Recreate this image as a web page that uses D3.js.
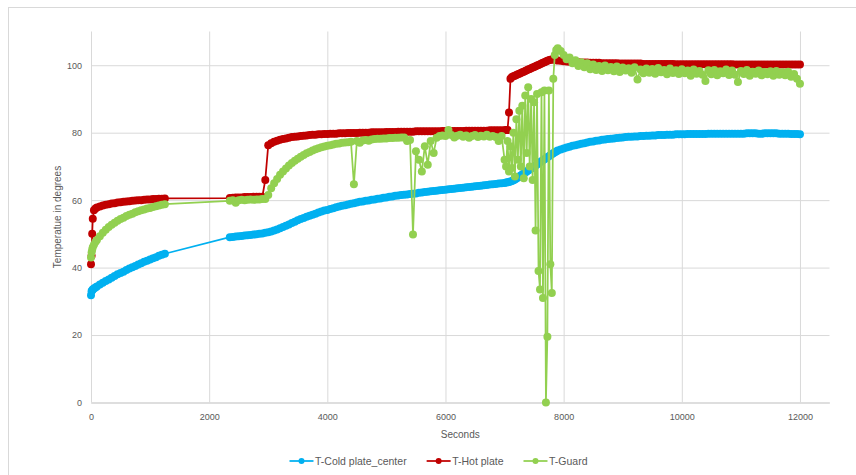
<!DOCTYPE html>
<html>
<head>
<meta charset="utf-8">
<script src="https://cdn.jsdelivr.net/npm/d3@7"></script>
<style>
  body { margin: 0; background: #fff; }
  text { font-family: "Liberation Sans", Arial, sans-serif; fill: #595959; }
</style>
</head>
<body>
<script>
// sample times (s)
const seconds = [
  0,10,20,30,50,75,100,150,200,250,
  300,350,400,450,500,550,600,650,700,750,
  800,850,900,950,1000,1050,1100,1150,1200,1250,
  2350,2400,2450,2500,2550,2600,2650,2700,2750,2800,
  2850,2900,2950,3000,3050,3100,3150,3200,3250,3300,
  3350,3400,3450,3500,3550,3600,3650,3700,3750,3800,
  3850,3900,3950,4000,4050,4100,4150,4200,4250,4300,
  4350,4400,4450,4500,4550,4600,4650,4700,4750,4800,
  4850,4900,4950,5000,5050,5100,5150,5200,5250,5300,
  5350,5400,5450,5500,5550,5600,5650,5700,5750,5800,
  5850,5900,5950,6000,6050,6100,6150,6200,6250,6300,
  6350,6400,6450,6500,6550,6600,6650,6700,6750,6800,
  6850,6900,6950,7000,7025,7050,7075,7100,7125,7150,
  7175,7200,7225,7250,7275,7300,7325,7350,7375,7400,
  7425,7450,7475,7500,7525,7550,7575,7600,7625,7650,
  7675,7700,7725,7750,7775,7800,7825,7850,7875,7900,
  7950,8000,8050,8100,8150,8200,8250,8300,8350,8400,
  8450,8500,8550,8600,8650,8700,8750,8800,8850,8900,
  8950,9000,9050,9100,9150,9200,9250,9300,9350,9400,
  9450,9500,9550,9600,9650,9700,9750,9800,9850,9900,
  9950,10000,10050,10100,10150,10200,10250,10300,10350,10400,
  10450,10500,10550,10600,10650,10700,10750,10800,10850,10900,
  10950,11000,11050,11100,11150,11200,11250,11300,11350,11400,
  11450,11500,11550,11600,11650,11700,11750,11800,11850,11900,
  11950,12000
];

const coldPlate = [
  31.8,33.0,33.3,33.5,33.8,34.1,34.4,35.0,35.5,36.0,
  36.5,37.0,37.5,38.0,38.4,38.8,39.3,39.7,40.1,40.5,
  40.9,41.3,41.7,42.0,42.4,42.8,43.1,43.5,43.8,44.1,
  49.0,49.1,49.2,49.3,49.4,49.5,49.6,49.7,49.8,49.9,
  50.0,50.1,50.3,50.5,50.7,51.0,51.3,51.7,52.0,52.4,
  52.8,53.2,53.6,54.0,54.4,54.7,55.1,55.4,55.7,56.0,
  56.3,56.6,56.9,57.1,57.4,57.6,57.9,58.1,58.3,58.5,
  58.7,58.9,59.1,59.3,59.5,59.6,59.8,59.9,60.1,60.2,
  60.4,60.5,60.7,60.8,61.0,61.1,61.3,61.4,61.5,61.6,
  61.7,61.8,61.9,62.0,62.2,62.3,62.4,62.5,62.6,62.7,
  62.8,62.9,63.0,63.1,63.2,63.3,63.4,63.5,63.6,63.7,
  63.8,63.9,64.0,64.1,64.2,64.3,64.4,64.5,64.6,64.7,
  64.8,64.9,65.0,65.1,65.2,65.3,65.4,65.5,65.7,65.9,
  66.1,66.4,66.7,67.0,67.3,67.6,67.9,68.2,68.5,68.8,
  69.1,69.4,69.7,70.0,70.3,70.6,70.9,71.2,71.5,71.8,
  72.1,72.4,72.7,73.0,73.3,73.6,73.9,74.2,74.4,74.7,
  75.0,75.3,75.6,75.8,76.1,76.3,76.5,76.7,76.9,77.1,
  77.3,77.4,77.6,77.7,77.9,78.0,78.1,78.2,78.3,78.4,
  78.5,78.6,78.7,78.8,78.8,78.9,78.9,79.0,79.0,79.1,
  79.1,79.2,79.2,79.3,79.3,79.3,79.4,79.4,79.4,79.5,
  79.5,79.5,79.5,79.6,79.6,79.6,79.6,79.6,79.6,79.6,
  79.7,79.7,79.7,79.7,79.7,79.7,79.7,79.7,79.7,79.7,
  79.7,79.7,79.7,79.8,79.8,79.8,79.8,79.7,79.7,79.8,
  79.8,79.8,79.8,79.8,79.7,79.7,79.7,79.7,79.6,79.6,
  79.6,79.5
];

const hotPlate = [
  41.0,43.5,50.0,54.5,57.0,57.5,57.8,58.1,58.4,58.6,
  58.8,59.0,59.1,59.3,59.4,59.5,59.6,59.7,59.8,59.9,
  60.0,60.0,60.1,60.2,60.2,60.3,60.3,60.4,60.4,60.5,
  60.6,60.7,60.8,60.8,60.8,60.9,60.9,60.9,61.0,61.0,
  61.0,61.0,66.0,76.3,76.9,77.3,77.6,77.9,78.1,78.3,
  78.5,78.7,78.8,78.9,79.0,79.1,79.2,79.3,79.4,79.4,
  79.5,79.5,79.6,79.6,79.7,79.7,79.7,79.8,79.8,79.8,
  79.9,79.9,79.9,79.9,80.0,80.0,80.0,80.0,80.1,80.1,
  80.1,80.1,80.1,80.2,80.2,80.2,80.2,80.3,80.3,80.3,
  80.3,80.3,80.3,80.4,80.4,80.4,80.4,80.4,80.4,80.4,
  80.4,80.4,80.5,80.5,80.5,80.5,80.5,80.5,80.5,80.5,
  80.6,80.6,80.6,80.6,80.6,80.6,80.6,80.6,80.7,80.7,
  80.7,80.7,80.7,80.7,80.8,80.8,86.0,96.0,96.5,96.7,
  96.9,97.1,97.3,97.5,97.7,97.9,98.1,98.3,98.5,98.7,
  98.9,99.1,99.3,99.5,99.7,99.9,100.1,100.3,100.5,100.7,
  100.9,101.1,101.3,101.5,101.6,101.7,101.7,101.6,101.5,101.4,
  101.3,101.2,101.1,101.0,101.0,100.9,100.9,100.8,100.8,100.8,
  100.7,100.7,100.7,100.7,100.6,100.6,100.6,100.6,100.6,100.6,
  100.5,100.5,100.5,100.5,100.5,100.5,100.5,100.5,100.4,100.4,
  100.4,100.4,100.4,100.4,100.4,100.4,100.4,100.4,100.4,100.3,
  100.3,100.3,100.3,100.3,100.3,100.3,100.3,100.3,100.3,100.3,
  100.3,100.3,100.3,100.3,100.3,100.3,100.3,100.3,100.3,100.2,
  100.2,100.2,100.2,100.2,100.2,100.2,100.2,100.2,100.2,100.2,
  100.2,100.2,100.2,100.2,100.2,100.2,100.2,100.2,100.2,100.2,
  100.2,100.2
];

const guard = [
  43.0,44.5,45.3,46.0,46.8,47.6,48.2,49.3,50.3,51.2,
  52.0,52.7,53.3,53.9,54.4,54.8,55.3,55.7,56.0,56.4,
  56.7,57.0,57.2,57.5,57.7,58.0,58.2,58.4,58.6,58.8,
  59.8,60.0,59.2,60.0,60.1,60.0,60.1,60.2,60.1,60.2,
  60.2,60.3,60.3,61.5,63.5,65.0,66.3,67.5,68.5,69.4,
  70.3,71.0,71.7,72.3,72.9,73.4,73.9,74.3,74.7,75.1,
  75.4,75.7,75.9,76.1,76.3,76.5,76.7,76.8,77.0,77.1,
  77.2,77.3,64.7,77.5,77.0,77.7,77.8,77.6,78.0,78.1,
  78.2,78.2,78.3,78.3,78.4,78.4,78.5,78.5,78.6,78.6,
  77.5,77.8,49.8,74.5,72.0,68.5,76.0,70.5,77.5,74.0,
  78.5,79.0,79.2,79.0,80.8,79.3,78.6,79.1,79.4,78.8,
  79.2,78.5,79.0,79.3,78.7,79.1,78.9,79.4,78.8,79.0,
  78.7,77.5,79.0,72.0,70.0,77.5,68.5,76.0,69.5,80.0,
  67.0,84.0,72.0,86.5,70.0,88.0,66.5,91.0,74.0,93.5,
  70.0,90.0,66.0,89.0,51.0,91.5,39.0,33.5,92.0,31.0,
  92.5,0.0,19.5,92.5,41.0,32.5,96.0,103.0,104.5,105.0,
  104.2,103.0,101.8,102.3,100.6,101.5,99.8,100.9,99.4,100.6,
  98.8,100.2,98.6,99.8,98.3,99.9,98.5,99.5,98.2,99.6,
  98.0,99.3,98.4,99.1,97.8,99.4,95.8,98.7,97.6,99.0,
  97.8,98.9,97.5,99.2,97.9,98.6,97.3,99.0,97.7,98.5,
  97.4,98.8,97.6,98.4,96.9,98.7,97.5,98.3,97.2,95.3,
  98.5,97.3,98.6,97.0,98.2,97.6,98.7,97.1,98.4,97.2,
  95.0,98.3,97.4,98.6,96.9,98.1,97.5,98.4,97.0,98.0,
  97.3,98.2,96.9,98.3,97.2,97.9,97.0,98.1,96.6,97.4,
  96.0,94.5
];

const seriesNames = ['T-Cold plate_center', 'T-Hot plate', 'T-Guard'];
const seriesColors = ['#00b0f0', '#c00000', '#92d050'];
const xTicks = [0, 2000, 4000, 6000, 8000, 10000, 12000];
const yTicks = [0, 20, 40, 60, 80, 100];

const width = 856, height = 475;
const plotLeft = 91, plotRight = 829.5, plotTop = 31.5, plotBottom = 402.5;

const svg = d3.select('body')
              .append('svg')
              .attr('width', width)
              .attr('height', height);

// chart area border
svg.append('rect')
   .attr('x', 8.5).attr('y', 7.5)
   .attr('width', 1000).attr('height', 1000)
   .attr('fill', 'none')
   .attr('stroke', '#d9d9d9');

const x = d3.scaleLinear().domain([0, 12500]).range([plotLeft, plotRight]);
const y = d3.scaleLinear().domain([0, 110]).range([plotBottom, plotTop]);

// y grid + labels
const yAxis = svg.append('g')
  .attr('transform', `translate(${plotLeft},0)`)
  .call(d3.axisLeft(y).tickValues(yTicks).tickSize(-(plotRight - plotLeft)).tickPadding(9));
yAxis.select('.domain').remove();
yAxis.selectAll('.tick line').attr('stroke', '#d9d9d9');
yAxis.selectAll('.tick text').style('font-size', '9px').attr('fill', '#595959');

// x grid + labels
const xAxis = svg.append('g')
  .attr('transform', `translate(0,${plotBottom})`)
  .call(d3.axisBottom(x)
          .tickValues(xTicks)
          .tickFormat(d3.format('d'))
          .tickSize(-(plotBottom - plotTop))
          .tickSizeOuter(0)
          .tickPadding(11));
xAxis.select('.domain').attr('stroke', '#d0d0d0');
xAxis.selectAll('.tick line').attr('stroke', '#d9d9d9');
xAxis.selectAll('.tick text').style('font-size', '9px').attr('fill', '#595959');

// axis titles
svg.append('text')
   .attr('x', (plotLeft + plotRight) / 2).attr('y', 434)
   .attr('text-anchor', 'middle').attr('dominant-baseline', 'central')
   .style('font-size', '10px')
   .text('Seconds');

svg.append('text')
   .attr('transform', `translate(57,${(plotTop + plotBottom) / 2}) rotate(-90)`)
   .attr('text-anchor', 'middle').attr('dominant-baseline', 'central')
   .style('font-size', '10px')
   .text('Temperatue in degrees');

// series
const allSeries = [coldPlate, hotPlate, guard];
const line = d3.line()
               .x(d => x(d[0]))
               .y(d => y(d[1]));

allSeries.forEach((values, i) => {
  const points = seconds.map((t, j) => [t, values[j]]);
  const g = svg.append('g');
  g.append('path')
   .datum(points)
   .attr('d', line)
   .attr('fill', 'none')
   .attr('stroke', seriesColors[i])
   .attr('stroke-width', 1.75);
  g.selectAll('circle')
   .data(points)
   .enter()
   .append('circle')
   .attr('cx', d => x(d[0]))
   .attr('cy', d => y(d[1]))
   .attr('r', 4)
   .attr('fill', seriesColors[i]);
});

// legend
const legend = svg.append('g');
const items = legend.selectAll('g')
  .data(seriesNames)
  .enter()
  .append('g');
items.append('line')
     .attr('x1', 0).attr('x2', 24).attr('y1', 0).attr('y2', 0)
     .attr('stroke', (d, i) => seriesColors[i])
     .attr('stroke-width', 1.75);
items.append('circle')
     .attr('cx', 12).attr('cy', 0).attr('r', 3)
     .attr('fill', (d, i) => seriesColors[i]);
items.append('text')
     .attr('x', 25.5).attr('y', 0)
     .attr('dominant-baseline', 'central')
     .style('font-size', '10.5px')
     .text(d => d);

let offsets = [];
let cursor = 0;
items.each(function() {
  offsets.push(cursor);
  const w = d3.select(this).select('text').node().getComputedTextLength();
  cursor += 25.5 + w + 20;
});
const legendWidth = cursor - 20;
const legendStart = 438.5 - legendWidth / 2;
items.attr('transform', (d, i) => `translate(${legendStart + offsets[i]},461)`);
</script>
</body>
</html>
